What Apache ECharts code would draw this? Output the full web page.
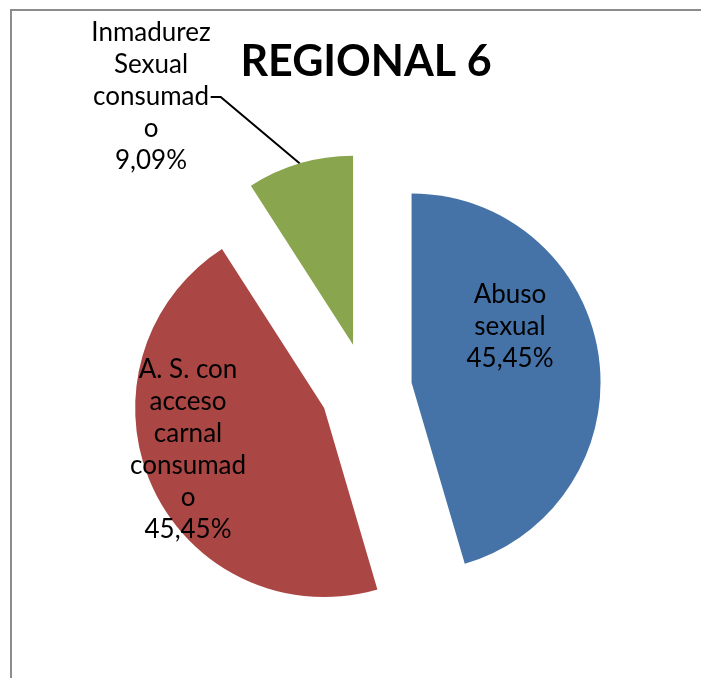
<!DOCTYPE html>
<html>
<head>
<meta charset="utf-8">
<script src="https://cdn.jsdelivr.net/npm/echarts@6/dist/echarts.min.js"></script>
<style>
    html, body { margin: 0; padding: 0; background: #fff; overflow: hidden; }
    #wrap { position: relative; width: 701px; height: 678px; overflow: hidden; }
    #main { width: 701px; height: 678px; }
    /* marco del area del grafico: solo se ven el borde superior e izquierdo */
    #frame {
        position: absolute; left: 10px; top: 9px; width: 900px; height: 900px;
        border-top: 2px solid #8c8c8c; border-left: 2px solid #8c8c8c;
        pointer-events: none;
    }
</style>
</head>
<body>
<div id="wrap">
    <div id="main"></div>
    <div id="frame"></div>
</div>
<script>
// datos del grafico
var categories = ['Abuso sexual', 'A. S. con acceso carnal consumado', 'Inmadurez Sexual consumado'];
var labelNames = ['Abuso\nsexual', 'A. S. con\nacceso\ncarnal\nconsumad\no', 'Inmadurez\nSexual\nconsumad\no'];
var counts = [5, 5, 1];
var chartTitle = 'REGIONAL 6';

function makePie(divId) {
    var myChart = echarts.init(document.getElementById(divId));
    var colors = ['#4572A7', '#AA4643', '#89A54E'];
    var labelSpots = [[510, 327], [188, 450], [151, 97]];   // centro de cada etiqueta
    var center = [366, 389];
    var explode = 46;    // separacion de las porciones
    var total = 0;
    for (var k = 0; k < counts.length; k++) total += counts[k];

    function pct(v) {
        return (v / total * 100).toFixed(2).replace('.', ',') + '%';
    }

    // una serie por porcion, desplazada sobre su bisectriz (porcion "explotada")
    var series = [];
    var acc = 0;
    for (var i = 0; i < counts.length; i++) {
        var mid = (acc + counts[i] / 2) / total * 2 * Math.PI;
        acc += counts[i];
        var outside = i === 2;
        series.push({
            type: 'pie',
            center: [center[0] + explode * Math.sin(mid), center[1] - explode * Math.cos(mid)],
            radius: 189,
            startAngle: 90,
            clockwise: true,
            silent: true,
            emphasis: {disabled: true},
            label: {
                show: false,
                position: outside ? 'outside' : 'inside',
                color: '#000',
                fontFamily: 'Lato',
                fontSize: 26,
                lineHeight: 32,
                align: 'center',
                formatter: function (p) {
                    return labelNames[p.dataIndex] + '\n' + pct(counts[p.dataIndex]);
                }
            },
            labelLine: {
                show: false,
                length: 20,
                length2: 10,
                lineStyle: {color: '#000', width: 2}
            },
            labelLayout: (function (spot) {
                return function () {
                    return {x: spot[0], y: spot[1], align: 'center', verticalAlign: 'middle'};
                };
            })(labelSpots[i]),
            data: (function (own) {
                var items = [];
                for (var j = 0; j < counts.length; j++) {
                    items.push({
                        name: categories[j],
                        value: counts[j],
                        itemStyle: {color: j === own ? colors[j] : 'rgba(0,0,0,0)'},
                        label: {show: j === own},
                        labelLine: {show: j === own && outside}
                    });
                }
                return items;
            })(i)
        });
    }

    var option = {
        animation: false,
        backgroundColor: '#fff',
        graphic: [{
            type: 'text',
            x: 366, y: 62,
            style: {
                text: chartTitle,
                align: 'center', verticalAlign: 'middle',
                fill: '#000',
                font: 'bold 43px Lato'
            }
        }],
        series: series
    };

    myChart.setOption(option);
}

makePie('main');
</script>
</body>
</html>
